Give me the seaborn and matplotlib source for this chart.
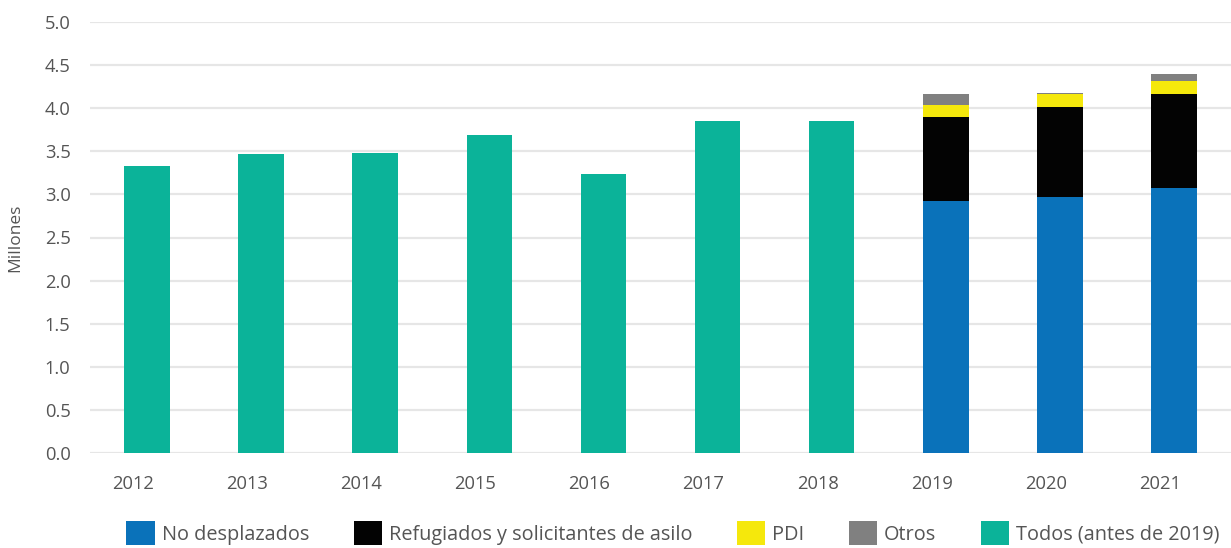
import pandas as pd
import numpy as np
import matplotlib
matplotlib.use("Agg")
import matplotlib.pyplot as plt
import matplotlib.transforms as mtransforms
import seaborn as sns
from matplotlib.patches import Patch

# ── Data ───────────────────────────────────────────────────────────────────────
years = ["2012", "2013", "2014", "2015", "2016", "2017", "2018", "2019", "2020", "2021"]
todos = [3.33, 3.47, 3.48, 3.69, 3.24, 3.855, 3.855, np.nan, np.nan, np.nan]
no_desplazados = [np.nan] * 7 + [2.92, 2.97, 3.07]
refugiados = [np.nan] * 7 + [0.98, 1.04, 1.09]
pdi = [np.nan] * 7 + [0.14, 0.15, 0.16]
otros = [np.nan] * 7 + [0.125, 0.02, 0.08]

labels = ["No desplazados", "Refugiados y solicitantes de asilo", "PDI", "Otros",
          "Todos (antes de 2019)"]
colors = ["#0a72ba", "#030303", "#f5e80c", "#808080", "#0bb399"]

df = pd.DataFrame({"year": years, "todos": todos, "nd": no_desplazados,
                   "ref": refugiados, "pdi": pdi, "otros": otros})
df["c1"] = df["nd"]
df["c2"] = df["c1"] + df["ref"]
df["c3"] = df["c2"] + df["pdi"]
df["c4"] = df["c3"] + df["otros"]

# ── Plot ───────────────────────────────────────────────────────────────────────
sns.set_style("white")
plt.rcParams["font.family"] = ["Open Sans", "DejaVu Sans"]
TXT = "#555555"

fig = plt.figure(figsize=(12.31, 5.48), dpi=100)
ax = fig.add_axes([90 / 1231, 1 - 453 / 548, 1141 / 1231, (453 - 22) / 548])

# stacked bars: draw cumulative totals from the top layer down
for col, c in [("c4", colors[3]), ("c3", colors[2]), ("c2", colors[1]), ("c1", colors[0])]:
    sns.barplot(data=df, x="year", y=col, order=years, color=c, width=0.4,
                errorbar=None, linewidth=0, saturation=1, ax=ax)
sns.barplot(data=df, x="year", y="todos", order=years, color=colors[4], width=0.4,
            errorbar=None, linewidth=0, saturation=1, ax=ax)

ax.set_xlim(-0.5, 9.5)
ax.set_ylim(0, 5.0)
ax.set_yticks(np.arange(0, 5.01, 0.5))
ax.set_yticklabels([f"{v:.1f}" for v in np.arange(0, 5.01, 0.5)])
ax.yaxis.grid(True, color="#e6e6e6", linewidth=1.6)
ax.set_axisbelow(True)
for s in ax.spines.values():
    s.set_visible(False)
ax.tick_params(axis="both", length=0, labelsize=13.2, labelcolor=TXT)
ax.tick_params(axis="y", pad=14)
ax.tick_params(axis="x", pad=16)

# year labels sit a little left of the bar centres in the original
shift = mtransforms.ScaledTranslation(-14 / 100, 0, fig.dpi_scale_trans)
for lbl in ax.get_xticklabels():
    lbl.set_transform(lbl.get_transform() + shift)

ax.set_xlabel("")
ax.set_ylabel("Millones", fontsize=12.5, color=TXT)
ax.yaxis.set_label_coords(-67 / 1141, 0.5)

handles = [Patch(facecolor=c, edgecolor="none", label=l) for c, l in zip(colors, labels)]
fig.legend(handles=handles, loc="center", bbox_to_anchor=(673 / 1231, 1 - 533 / 548),
           ncol=5, frameon=False, fontsize=14.3, handlelength=1.42, handleheight=1.42,
           handletextpad=0.35, columnspacing=2.25, labelcolor=TXT,
           borderpad=0, borderaxespad=0)

fig.savefig("out.png", dpi=100)
